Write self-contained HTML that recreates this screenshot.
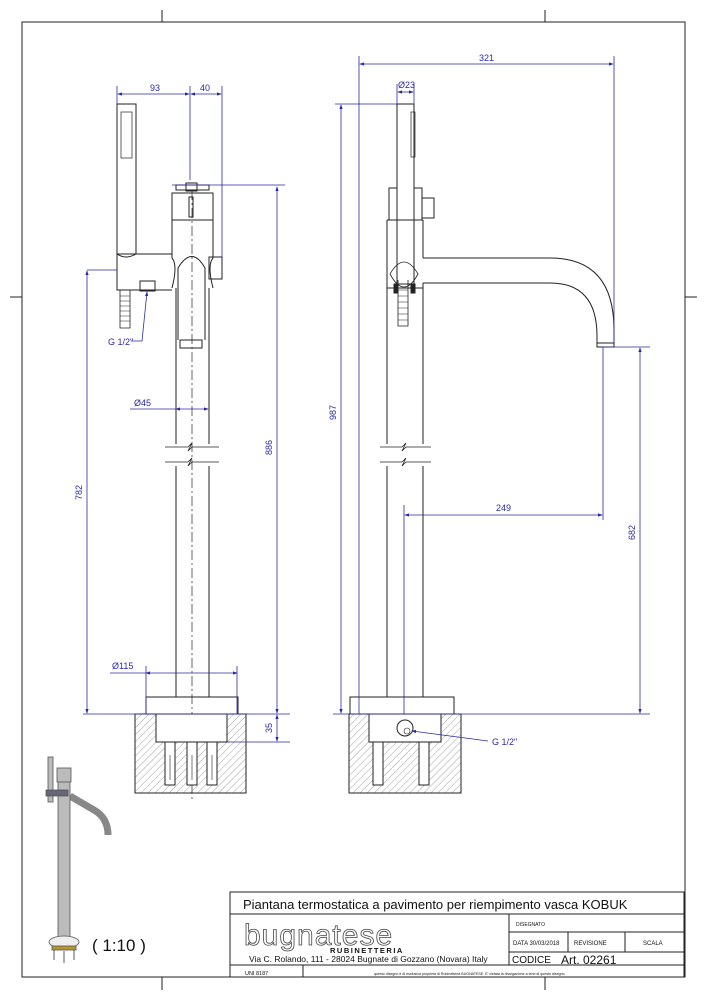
<!DOCTYPE html>
<html><head><meta charset="utf-8"><style>
body{margin:0;background:#fff}
svg{display:block;font-family:"Liberation Sans",sans-serif}
.k{stroke:#222;stroke-width:1;fill:none}
.b{stroke:#2a2aa8;stroke-width:0.8;fill:none}
.t{fill:#2a2aa8;font-size:9px}
.n{font-family:"Liberation Sans Narrow","Liberation Sans",sans-serif;fill:#111}
</style></head><body>
<svg width="707" height="1000" viewBox="0 0 707 1000">
<defs>
<pattern id="h" width="5" height="5" patternUnits="userSpaceOnUse" patternTransform="rotate(45)"><line x1="0" y1="0" x2="0" y2="5" stroke="#666" stroke-width="0.6"/></pattern>
<marker id="a" markerWidth="6" markerHeight="6" refX="5" refY="3" orient="auto-start-reverse"><path d="M0,1 L6,3 L0,5z" fill="#2a2aa8"/></marker>
</defs>
<rect x="22" y="22" width="663" height="955" class="k" stroke-width="1.2"/>
<path class="k" d="M162 10V22M545 10V22M162 977V990M545 977V990M10 297H22M685 297H697"/>
<!-- ===== LEFT VIEW ===== -->
<g class="k">
<rect x="117" y="104" width="19" height="150"/>
<rect x="121" y="112" width="11" height="46" stroke-width="0.7"/>
<path d="M117 254 Q126 260 136 254 H172 M117 254V290 H172" />
<path d="M120 290v38h10v-38" stroke-width="0.8"/>
<path d="M120 296h10M120 301h10M120 306h10M120 311h10M120 316h10M120 321h10" stroke-width="0.6"/>
<rect x="140" y="281" width="15" height="10"/>
<rect x="176" y="185" width="33" height="5"/>
<rect x="186" y="183" width="11" height="8"/>
<rect x="172" y="193" width="41" height="27"/>
<rect x="189" y="197" width="4" height="20"/>
<path d="M172 220V258 Q178 265 172 288M213 220V258 Q207 265 213 288M172 220H213"/>
<path d="M178 340V268 Q192 245 205 268V340"/>
<rect x="180" y="340" width="22" height="8"/>
<rect x="209" y="257" width="13" height="22"/>
<path d="M176 288V444M209 288V444M176 466V697M209 466V697"/>
<path d="M165 447 H188 l4 -4 l-4 8 l4 -4 H219 M165 462 H188 l4 -4 l-4 8 l4 -4 H219" stroke-width="0.8"/>
<path d="M192 190V800" stroke-dasharray="10 3 2 3" stroke-width="0.7"/>
<rect x="146" y="697" width="92" height="17"/>
<path d="M135 714H246V793H135Z" fill="url(#h)"/>
<rect x="156" y="714" width="71" height="28" fill="#fff"/>
<rect x="165" y="742" width="10" height="43" fill="#fff"/><rect x="187" y="742" width="10" height="43" fill="#fff"/><rect x="207" y="742" width="10" height="43" fill="#fff"/>
<path d="M170 755v25M192 755v25M212 755v25" stroke-width="0.6"/>
</g>
<g class="b">
<path d="M117 104V86M190 180V86M222 257V86M172 185H285M87 270H117M83 714H290M227 742H290"/>
<line x1="118" y1="94" x2="189" y2="94" marker-start="url(#a)" marker-end="url(#a)"/>
<line x1="191" y1="94" x2="221" y2="94" marker-start="url(#a)" marker-end="url(#a)"/>
<line x1="277" y1="187" x2="277" y2="713" marker-start="url(#a)" marker-end="url(#a)"/>
<line x1="87" y1="271" x2="87" y2="713" marker-start="url(#a)" marker-end="url(#a)"/>
<line x1="130" y1="409" x2="176" y2="409"/><line x1="176" y1="409" x2="208" y2="409" marker-start="url(#a)" marker-end="url(#a)"/>
<line x1="110" y1="673" x2="146" y2="673"/><line x1="146" y1="673" x2="237" y2="673" marker-start="url(#a)" marker-end="url(#a)"/>
<path d="M146 666V714M237 666V714"/>
<line x1="277" y1="715" x2="277" y2="741" marker-start="url(#a)" marker-end="url(#a)"/>
<path d="M131 341H142L147 292" marker-end="url(#a)"/>
</g>
<g class="t">
<text x="150" y="91">93</text><text x="200" y="91">40</text>
<text x="272" y="455" transform="rotate(-90 272 455)">886</text>
<text x="82" y="500" transform="rotate(-90 82 500)">782</text>
<text x="134" y="406">Ø45</text><text x="112" y="669">Ø115</text>
<text x="272" y="733" transform="rotate(-90 272 733)">35</text>
<text x="108" y="345">G 1/2"</text>
</g>
<!-- ===== RIGHT VIEW ===== -->
<g class="k">
<rect x="397" y="104" width="17" height="180"/>
<rect x="411" y="112" width="4" height="45" stroke-width="0.7"/>
<rect x="389" y="188" width="8" height="32"/><rect x="414" y="188" width="8" height="32"/>
<rect x="422" y="198" width="12" height="20"/>
<path d="M387 220V444M423 220V258M387 220H423"/>
<path d="M390 274 Q404 250 418 274 Q404 300 390 274" stroke-width="0.8"/>
<path d="M398 280v46h10v-46" stroke-width="0.8"/>
<path d="M398 290h10M398 296h10M398 302h10M398 308h10M398 314h10M398 320h10" stroke-width="0.6"/>
<rect x="394" y="284" width="4" height="9" fill="#222"/><rect x="411" y="284" width="4" height="9" fill="#222"/>
<path d="M423 258H550 Q614 258 614 330V343H597V336 Q597 283 550 283H423"/>
<rect x="597" y="343" width="17" height="4"/>
<path d="M387 288H423M423 283V444M387 466V697M423 466V697"/>
<path d="M380 447 H402 l4 -4 l-4 8 l4 -4 H431 M380 462 H402 l4 -4 l-4 8 l4 -4 H431" stroke-width="0.8"/>
<rect x="350" y="697" width="104" height="17"/>
<path d="M349 714H461V793H349Z" fill="url(#h)"/>
<rect x="369" y="714" width="72" height="28" fill="#fff"/>
<circle cx="405" cy="728" r="8"/><circle cx="407" cy="731" r="3" stroke-width="0.6"/>
<rect x="373" y="742" width="10" height="43" fill="#fff"/><rect x="419" y="742" width="10" height="43" fill="#fff"/>
</g>
<g class="b">
<path d="M359 714V56M614 343V56M397 104V84M414 104V84M335 104H397M602 347H650M603 347V520M404 505V714M333 714H650"/>
<line x1="360" y1="64" x2="613" y2="64" marker-start="url(#a)" marker-end="url(#a)"/>
<line x1="398" y1="92" x2="413" y2="92" marker-start="url(#a)" marker-end="url(#a)"/>
<line x1="341" y1="105" x2="341" y2="713" marker-start="url(#a)" marker-end="url(#a)"/>
<line x1="640" y1="348" x2="640" y2="713" marker-start="url(#a)" marker-end="url(#a)"/>
<line x1="405" y1="515" x2="602" y2="515" marker-start="url(#a)" marker-end="url(#a)"/>
<path d="M488 741L412 731" marker-end="url(#a)"/>
</g>
<g class="t">
<text x="479" y="61">321</text><text x="398" y="88">Ø23</text>
<text x="336" y="420" transform="rotate(-90 336 420)">987</text>
<text x="635" y="540" transform="rotate(-90 635 540)">682</text>
<text x="496" y="511">249</text><text x="492" y="745">G 1/2"</text>
</g>
<!-- thumbnail -->
<path d="M70 796 L94 810 Q108 818 108 835" stroke="#888" stroke-width="7" fill="none"/>
<g stroke="#555" fill="#bbb" stroke-width="0.8">
<rect x="58" y="775" width="12" height="165"/>
<rect x="57" y="768" width="14" height="14"/>
<rect x="48" y="757" width="5" height="45"/>
<rect x="46" y="790" width="22" height="6" fill="#667"/>
<ellipse cx="64" cy="942" rx="15" ry="6" fill="#eee"/>
<rect x="52" y="946" width="24" height="4" fill="#b8962e"/>
<path d="M54 950v10M64 951v12M74 950v10" stroke="#333"/>
</g>
<text x="92" y="951" style="font-size:17px;fill:#111">( 1:10 )</text>
<!-- title block -->
<g class="k" stroke-width="1.1">
<rect x="230" y="892" width="454" height="85"/>
<path d="M230 914H684M230 965H684M509 914V965M509 932H684M509 952H684M568 932V952M625 932V952M303 965V977"/>
</g>
<g class="n">
<text x="243" y="909" style="font-size:13px">Piantana termostatica a pavimento per riempimento vasca KOBUK</text>
<text x="244" y="945" style="font-size:30px;fill:none;stroke:#444;stroke-width:0.8;letter-spacing:1px">bugnatese</text>
<text x="330" y="953" style="font-size:7.5px;font-weight:bold;letter-spacing:1.5px">RUBINETTERIA</text>
<text x="249" y="962" style="font-size:8.5px">Via C. Rolando, 111 - 28024 Bugnate di Gozzano (Novara) Italy</text>
<text x="516" y="926" style="font-size:5px">DISEGNATO</text>
<text x="513" y="945" style="font-size:6px">DATA   30/03/2018</text>
<text x="574" y="945" style="font-size:6px">REVISIONE</text>
<text x="643" y="945" style="font-size:6px">SCALA</text>
<text x="512" y="963" style="font-size:10px">CODICE</text>
<text x="561" y="964" style="font-size:12px">Art. 02261</text>
<text x="245" y="975" style="font-size:5.5px">UNI 8187</text>
<text x="374" y="975" style="font-size:3.6px">questo disegno è di esclusiva proprietà di Rubinetteria BUGNATESE. E' vietata la divulgazione a terzi di questo disegno</text>
</g>
</svg>
</body></html>
